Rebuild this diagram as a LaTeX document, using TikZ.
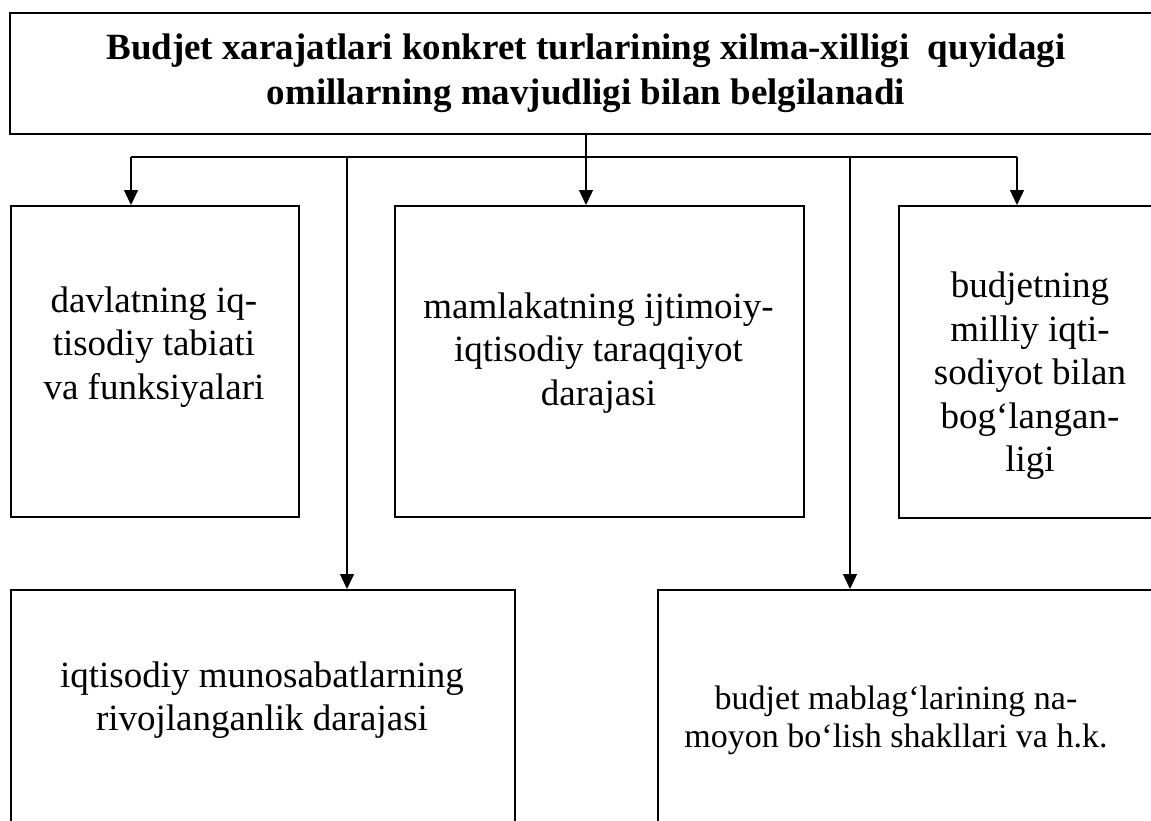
\documentclass[tikz,border=0pt]{standalone}
\usepackage{fontspec}
\setmainfont{Liberation Serif}
\usetikzlibrary{arrows.meta}
\begin{document}
\begin{tikzpicture}[x=1pt,y=-1pt,
  box/.style={draw, line width=1.6pt, inner sep=0pt, anchor=north west},
  txt/.style={inner sep=0pt, align=center, font=\fontsize{37}{43.5}\selectfont},
  ttl/.style={inner sep=0pt, align=center, font=\fontsize{37}{45}\selectfont\bfseries},
  conn/.style={line width=1.3pt},
  arr/.style={line width=1.3pt, -{Triangle[length=15pt,width=14pt]}}]
\useasboundingbox (0,0) rectangle (1151,820);
\clip (0,0) rectangle (1151,820);
% boxes
\node[box, minimum width=1151pt, minimum height=121pt] (top) at (9,12) {};
\node[box, minimum width=288pt, minimum height=311pt] (L) at (10,205) {};
\node[box, minimum width=409pt, minimum height=311pt] (M) at (394,205) {};
\node[box, minimum width=262pt, minimum height=312pt] (R) at (898,205) {};
\node[box, minimum width=504pt, minimum height=241pt] (BL) at (10,589) {};
\node[box, minimum width=503pt, minimum height=241pt] (BR) at (657,589) {};
% texts
\node[ttl] (tT) at (586,73) {Budjet xarajatlari konkret turlarining xilma-xilligi~ quyidagi\\omillarning mavjudligi bilan belgilanadi};
\node[txt] (tL) at (154,347) {davlatning iq-\\tisodiy tabiati\\va funksiyalari};
\node[txt] (tM) at (598.5,353) {mamlakatning ijtimoiy-\\iqtisodiy taraqqiyot\\darajasi};
\node[txt] (tR) at (1030,376) {budjetning\\milliy iqti-\\sodiyot bilan\\bog‘langan-\\ligi};
\node[txt] (tBL) at (262,700) {iqtisodiy munosabatlarning\\rivojlanganlik darajasi};
\node[txt, font=\fontsize{34}{38}\selectfont] (tBR) at (896,720) {budjet mablag‘larining na-\\moyon bo‘lish shakllari va h.k.};
% connectors
\coordinate (jc) at (586,157);
\coordinate (j1) at (131,157);
\coordinate (j2) at (347,157);
\coordinate (j4) at (850,157);
\coordinate (j5) at (1017,157);
\draw[conn] (top.south -| jc) -- (jc);
\draw[conn] (j1) -- (j5);
\draw[arr] (j1) -- (j1 |- L.north);
\draw[arr] (jc) -- (jc |- M.north);
\draw[arr] (j5) -- (j5 |- R.north);
\draw[arr] (j2) -- (j2 |- BL.north);
\draw[arr] (j4) -- (j4 |- BR.north);
\end{tikzpicture}
\end{document}
